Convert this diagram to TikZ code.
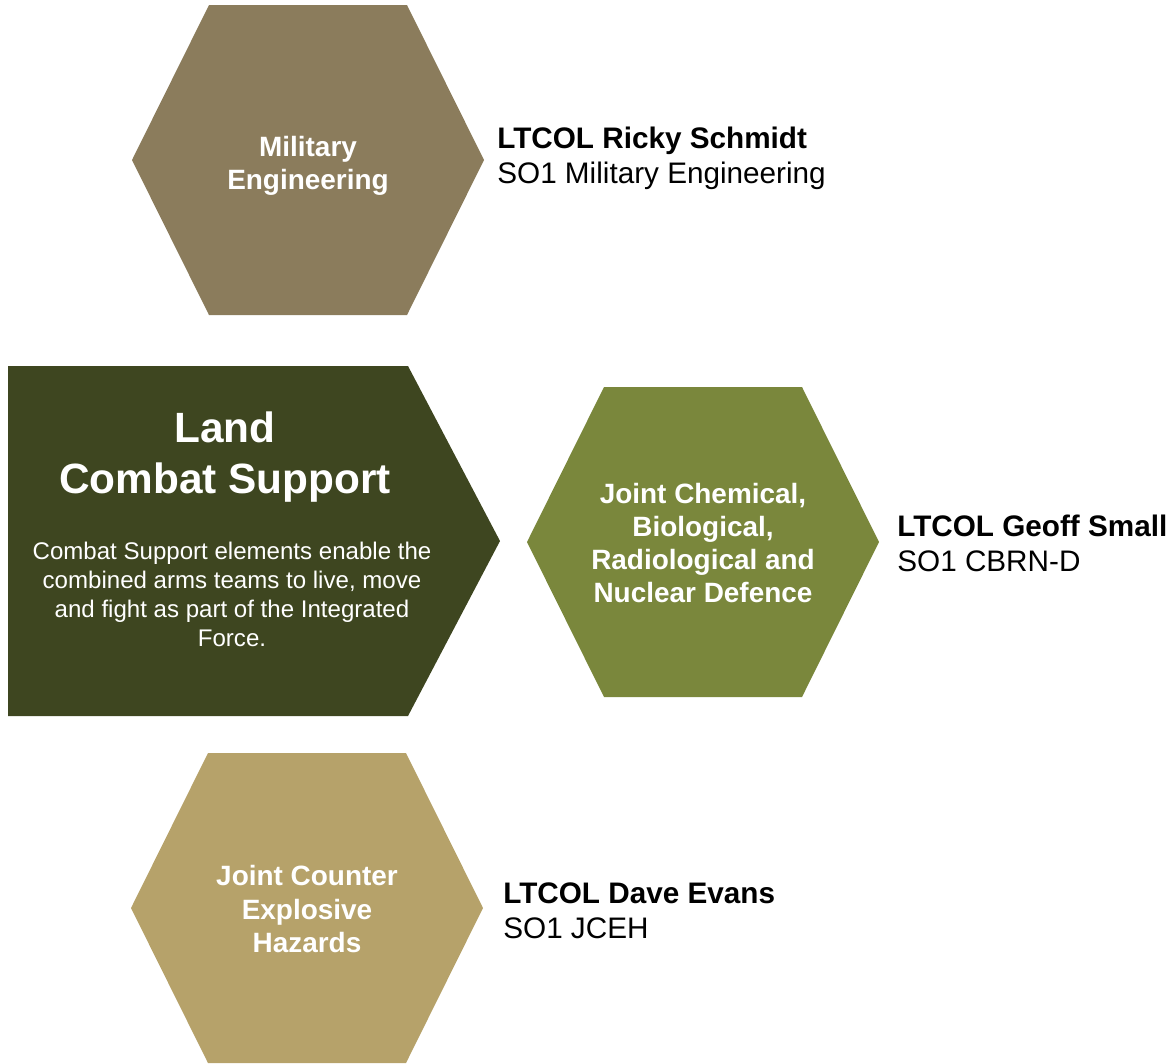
\documentclass[tikz,border=0pt]{standalone}
\usepackage{fontspec}
\setmainfont{Liberation Sans}
\usepackage{tikz}
\usetikzlibrary{positioning}
\definecolor{engfill}{RGB}{139,124,92}
\definecolor{cbrnfill}{RGB}{122,135,60}
\definecolor{jcehfill}{RGB}{182,162,106}
\definecolor{landfill}{RGB}{62,70,32}
\tikzset{
    hexshape/.style={
        insert path={++(-99,-155) -- ++(198,0) -- ++(77,155) -- ++(-77,155) -- ++(-198,0) -- ++(-77,-155) -- cycle}
    },
    hexlabel/.style={
        text=white, align=center, inner sep=0pt,
        font=\fontsize{15.9}{18.8}\selectfont\bfseries
    },
    titlelabel/.style={
        text=white, align=center, inner sep=0pt,
        font=\fontsize{24.1}{28.8}\selectfont\bfseries
    },
    desclabel/.style={
        text=white, align=center, inner sep=0pt,
        font=\fontsize{13.7}{16.5}\selectfont
    },
    person/.style={
        anchor=west, align=left, inner sep=0pt,
        font=\fontsize{16.9}{20}\selectfont
    }
}

\begin{document}
\begin{tikzpicture}[x=0.02cm, y=-0.02cm]
    \useasboundingbox (0,0) rectangle (1169,1063);

    % Land Combat Support arrow
    \fill[landfill] (8,366) -- (408,366) -- (500,541) -- (408,716) -- (8,716) -- cycle;
    \node[titlelabel] (lcs) at (225,457) {Land\\Combat Support};
    \node[desclabel] (lcsdesc) at (232,594) {Combat Support elements enable the\\combined arms teams to live, move\\and fight as part of the Integrated\\Force.};

    % Hexagons
    \fill[engfill] (308,160) [hexshape];
    \fill[cbrnfill] (703,542) [hexshape];
    \fill[jcehfill] (307,908) [hexshape];

    \node[hexlabel] (mileng) at (308,166) {Military\\Engineering};
    \node[hexlabel] (cbrn) at (703,543) {Joint Chemical,\\Biological,\\Radiological and\\Nuclear Defence};
    \node[hexlabel] (jceh) at (307,909) {Joint Counter\\Explosive\\Hazards};

    % Staff officers
    \node[person] (ricky) at (497,158) {\textbf{LTCOL Ricky Schmidt}\\SO1 Military Engineering};
    \node[person] (geoff) at (897,543) {\textbf{LTCOL Geoff Small}\\SO1 CBRN-D};
    \node[person] (dave) at (503,911) {\textbf{LTCOL Dave Evans}\\SO1 JCEH};
\end{tikzpicture}
\end{document}
